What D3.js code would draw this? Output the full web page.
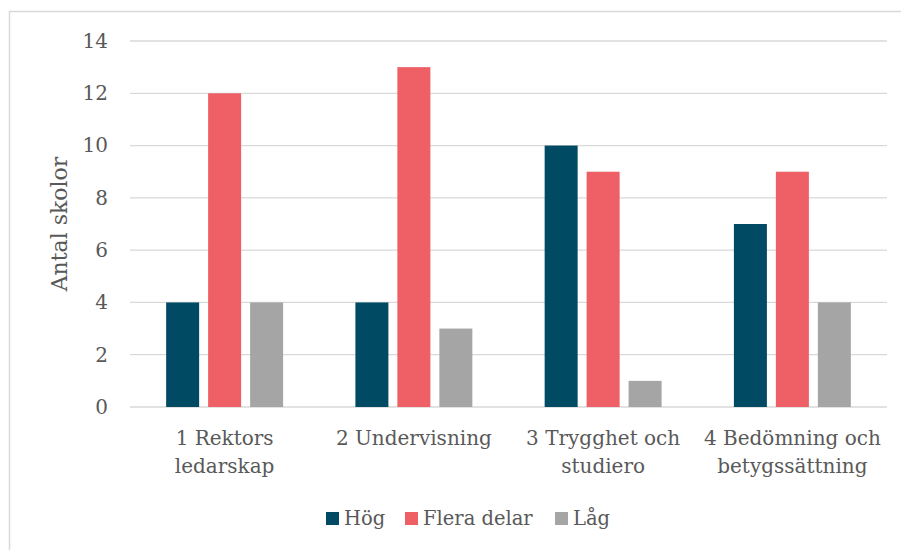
<!DOCTYPE html>
<html>
<head>
<meta charset="utf-8">
<script src="https://cdn.jsdelivr.net/npm/d3@7"></script>
<style>
  body { margin: 0; background: #fff; }
  text { font-family: "DejaVu Serif", serif; fill: #595959; }
</style>
</head>
<body>
<div id="chart-area"></div>
<script>
// data
const categories = [["1 Rektors", "ledarskap"], ["2 Undervisning"], ["3 Trygghet och", "studiero"], ["4 Bedömning och", "betygssättning"]];
const series = ["Hög", "Flera delar", "Låg"];
const hog = [4, 4, 10, 7];
const fleraDelar = [12, 13, 9, 9];
const lag = [4, 3, 1, 4];
const yTicks = [0, 2, 4, 6, 8, 10, 12, 14];
const colors = ["#004b63", "#ee5f66", "#a5a5a5"];

const values = [hog, fleraDelar, lag];
const rows = categories.map(function (c, i) {
    return { key: i, label: c, vals: values.map(function (v) { return v[i]; }) };
});

const width = 901, height = 550;
const plotLeft = 130, plotRight = 887, plotTop = 41, plotBottom = 407;

let svg = d3.select("#chart-area").append("svg")
    .attr("width", width)
    .attr("height", height);

// outer border
svg.append("rect")
    .attr("x", 9.5).attr("y", 11.5)
    .attr("width", 900).attr("height", 560)
    .attr("fill", "none")
    .attr("stroke", "#d9d9d9")
    .attr("stroke-width", 1.5);

const x0 = d3.scaleBand()
    .domain(rows.map(function (d) { return d.key; }))
    .range([plotLeft, plotRight])
    .paddingInner(0.382)
    .paddingOuter(0.191);

const x1 = d3.scaleBand()
    .domain(d3.range(series.length))
    .range([0, x0.bandwidth()])
    .paddingInner(0.214);

const y = d3.scaleLinear()
    .domain([0, 14])
    .range([plotBottom, plotTop]);

// gridlines
svg.append("g").selectAll("line")
    .data(yTicks)
    .enter()
    .append("line")
    .attr("x1", plotLeft).attr("x2", plotRight)
    .attr("y1", function (d) { return y(d); })
    .attr("y2", function (d) { return y(d); })
    .attr("stroke", "#d9d9d9")
    .attr("stroke-width", 1.3);

// y axis labels
const yAxis = d3.axisLeft(y).tickValues(yTicks).tickSize(0).tickPadding(0);
const gy = svg.append("g")
    .attr("transform", "translate(" + 108 + ",0)")
    .call(yAxis);
gy.select(".domain").remove();
gy.selectAll("text")
    .attr("font-size", 20)
    .attr("font-family", "DejaVu Serif")
    .attr("fill", "#595959");

// bars
svg.append("g").selectAll("g")
    .data(rows)
    .enter()
    .append("g")
    .attr("transform", function (d) { return "translate(" + x0(d.key) + ",0)"; })
    .selectAll("rect")
    .data(function (d) { return d.vals; })
    .enter()
    .append("rect")
    .attr("x", function (d, i) { return x1(i); })
    .attr("y", function (d) { return y(d); })
    .attr("width", x1.bandwidth())
    .attr("height", function (d) { return y(0) - y(d); })
    .attr("fill", function (d, i) { return colors[i]; });

// category labels
svg.append("g").selectAll("text")
    .data(rows)
    .enter()
    .append("text")
    .attr("text-anchor", "middle")
    .attr("font-size", 20)
    .attr("x", function (d) { return x0(d.key) + x0.bandwidth() / 2; })
    .attr("y", 445)
    .selectAll("tspan")
    .data(function (d) { return d.label; })
    .enter()
    .append("tspan")
    .attr("x", function () { return d3.select(this.parentNode).attr("x"); })
    .attr("dy", function (d, i) { return i === 0 ? 0 : 28; })
    .text(function (d) { return d; });

// y title
svg.append("text")
    .attr("transform", "translate(67," + (plotTop + plotBottom) / 2 + ") rotate(-90)")
    .attr("text-anchor", "middle")
    .attr("font-size", 22)
    .text("Antal skolor");

// legend
const legendX = [326, 405, 555];
const legend = svg.append("g").selectAll("g")
    .data(series)
    .enter()
    .append("g")
    .attr("transform", function (d, i) { return "translate(" + legendX[i] + ",512)"; });
legend.append("rect")
    .attr("width", 13).attr("height", 13)
    .attr("fill", function (d, i) { return colors[i]; });
legend.append("text")
    .attr("x", 18).attr("y", 13)
    .attr("font-size", 19.5)
    .text(function (d) { return d; });
</script>
</body>
</html>
